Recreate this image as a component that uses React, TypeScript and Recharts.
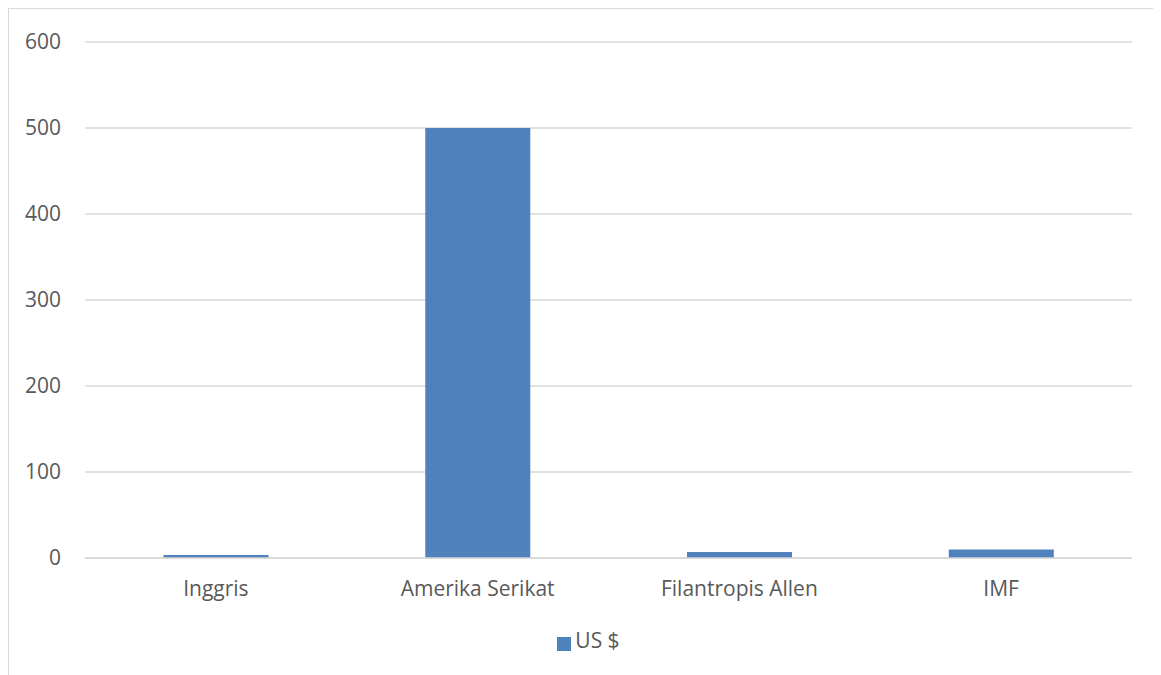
import { BarChart, Bar, XAxis, YAxis, CartesianGrid, Legend } from "recharts";

const categories = ["Inggris", "Amerika Serikat", "Filantropis Allen", "IMF"];
const usd = [3.5, 500, 7, 10];
const yTicks = [0, 100, 200, 300, 400, 500, 600];

const data = categories.map((name, i) => ({ name, usd: usd[i] }));

const textStyle = { fontSize: 21, fill: "#595959", fontFamily: "'Open Sans', sans-serif" };

export default function App() {
  return (
    <div style={{ width: 1152, height: 680, border: "1px solid #d9d9d9", boxSizing: "border-box", background: "#fff" }}>
      <BarChart
        width={1150}
        height={678}
        data={data}
        margin={{ top: 33, right: 27, left: 0, bottom: 51 }}
        barCategoryGap="30%"
      >
        <CartesianGrid vertical={false} stroke="#d9d9d9" strokeWidth={1.5} />
        <XAxis
          dataKey="name"
          tick={textStyle}
          tickLine={false}
          axisLine={{ stroke: "#d9d9d9", strokeWidth: 1.5 }}
          tickSize={0}
          tickMargin={23}
          height={50}
          interval={0}
        />
        <YAxis
          domain={[0, 600]}
          ticks={yTicks}
          tick={textStyle}
          tickLine={false}
          axisLine={false}
          tickSize={0}
          tickMargin={24}
          width={76}
        />
        <Legend
          verticalAlign="bottom"
          iconType="square"
          iconSize={14}
          formatter={() => <span style={{ color: "#595959", fontSize: 21, fontFamily: "'Open Sans', sans-serif" }}>US $</span>}
          wrapperStyle={{ bottom: 33, left: 23 }}
        />
        <Bar dataKey="usd" name="US $" fill="#4f81bd" isAnimationActive={false} />
      </BarChart>
    </div>
  );
}
